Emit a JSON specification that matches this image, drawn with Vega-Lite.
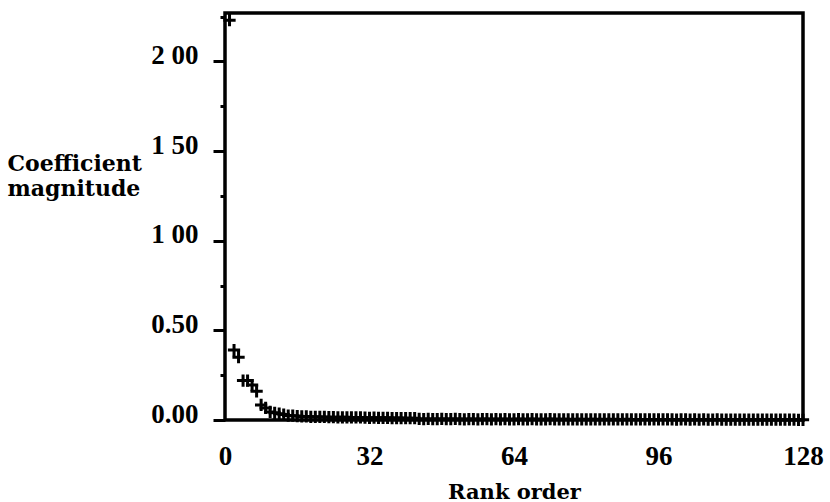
{
  "$schema": "https://vega.github.io/schema/vega-lite/v6.json",
  "width": 578,
  "height": 407,
  "autosize": "none",
  "padding": {"left": 225, "top": 13, "right": 27, "bottom": 82},
  "background": "white",
  "config": {
    "view": {"stroke": "black", "strokeWidth": 3.5},
    "axis": {"grid": false, "domain": false, "labelColor": "black", "titleColor": "black", "tickColor": "black"}
  },
  "data": {"values": [
    {"rank": 1, "mag": 2.23}, {"rank": 2, "mag": 0.39}, {"rank": 3, "mag": 0.35}, {"rank": 4, "mag": 0.22},
    {"rank": 5, "mag": 0.22}, {"rank": 6, "mag": 0.195}, {"rank": 7, "mag": 0.16}, {"rank": 8, "mag": 0.084},
    {"rank": 9, "mag": 0.067}, {"rank": 10, "mag": 0.045}, {"rank": 11, "mag": 0.04}, {"rank": 12, "mag": 0.035},
    {"rank": 13, "mag": 0.03}, {"rank": 14, "mag": 0.025}, {"rank": 15, "mag": 0.024}, {"rank": 16, "mag": 0.022},
    {"rank": 17, "mag": 0.02}, {"rank": 18, "mag": 0.02}, {"rank": 19, "mag": 0.018}, {"rank": 20, "mag": 0.018},
    {"rank": 21, "mag": 0.017}, {"rank": 22, "mag": 0.017}, {"rank": 23, "mag": 0.016}, {"rank": 24, "mag": 0.016},
    {"rank": 25, "mag": 0.015}, {"rank": 26, "mag": 0.015}, {"rank": 27, "mag": 0.015}, {"rank": 28, "mag": 0.014},
    {"rank": 29, "mag": 0.014}, {"rank": 30, "mag": 0.014}, {"rank": 31, "mag": 0.013}, {"rank": 32, "mag": 0.012},
    {"rank": 33, "mag": 0.013}, {"rank": 34, "mag": 0.012}, {"rank": 35, "mag": 0.012}, {"rank": 36, "mag": 0.012},
    {"rank": 37, "mag": 0.011}, {"rank": 38, "mag": 0.011}, {"rank": 39, "mag": 0.011}, {"rank": 40, "mag": 0.01},
    {"rank": 41, "mag": 0.01}, {"rank": 42, "mag": 0.01}, {"rank": 43, "mag": 0.006}, {"rank": 44, "mag": 0.005},
    {"rank": 45, "mag": 0.006}, {"rank": 46, "mag": 0.005}, {"rank": 47, "mag": 0.005}, {"rank": 48, "mag": 0.006},
    {"rank": 49, "mag": 0.005}, {"rank": 50, "mag": 0.005}, {"rank": 51, "mag": 0.006}, {"rank": 52, "mag": 0.005},
    {"rank": 53, "mag": 0.004}, {"rank": 54, "mag": 0.005}, {"rank": 55, "mag": 0.005}, {"rank": 56, "mag": 0.004},
    {"rank": 57, "mag": 0.005}, {"rank": 58, "mag": 0.005}, {"rank": 59, "mag": 0.004}, {"rank": 60, "mag": 0.005},
    {"rank": 61, "mag": 0.004}, {"rank": 62, "mag": 0.005}, {"rank": 63, "mag": 0.004}, {"rank": 64, "mag": 0.004},
    {"rank": 65, "mag": 0.005}, {"rank": 66, "mag": 0.004}, {"rank": 67, "mag": 0.004}, {"rank": 68, "mag": 0.005},
    {"rank": 69, "mag": 0.004}, {"rank": 70, "mag": 0.004}, {"rank": 71, "mag": 0.004}, {"rank": 72, "mag": 0.005},
    {"rank": 73, "mag": 0.004}, {"rank": 74, "mag": 0.004}, {"rank": 75, "mag": 0.004}, {"rank": 76, "mag": 0.004},
    {"rank": 77, "mag": 0.003}, {"rank": 78, "mag": 0.004}, {"rank": 79, "mag": 0.004}, {"rank": 80, "mag": 0.003},
    {"rank": 81, "mag": 0.004}, {"rank": 82, "mag": 0.004}, {"rank": 83, "mag": 0.003}, {"rank": 84, "mag": 0.004},
    {"rank": 85, "mag": 0.003}, {"rank": 86, "mag": 0.004}, {"rank": 87, "mag": 0.003}, {"rank": 88, "mag": 0.003},
    {"rank": 89, "mag": 0.004}, {"rank": 90, "mag": 0.003}, {"rank": 91, "mag": 0.003}, {"rank": 92, "mag": 0.003},
    {"rank": 93, "mag": 0.003}, {"rank": 94, "mag": 0.003}, {"rank": 95, "mag": 0.003}, {"rank": 96, "mag": 0.003},
    {"rank": 97, "mag": 0.003}, {"rank": 98, "mag": 0.003}, {"rank": 99, "mag": 0.003}, {"rank": 100, "mag": 0.002},
    {"rank": 101, "mag": 0.003}, {"rank": 102, "mag": 0.003}, {"rank": 103, "mag": 0.002}, {"rank": 104, "mag": 0.003},
    {"rank": 105, "mag": 0.002}, {"rank": 106, "mag": 0.003}, {"rank": 107, "mag": 0.002}, {"rank": 108, "mag": 0.002},
    {"rank": 109, "mag": 0.003}, {"rank": 110, "mag": 0.002}, {"rank": 111, "mag": 0.002}, {"rank": 112, "mag": 0.002},
    {"rank": 113, "mag": 0.002}, {"rank": 114, "mag": 0.002}, {"rank": 115, "mag": 0.002}, {"rank": 116, "mag": 0.002},
    {"rank": 117, "mag": 0.002}, {"rank": 118, "mag": 0.002}, {"rank": 119, "mag": 0.002}, {"rank": 120, "mag": 0.002},
    {"rank": 121, "mag": 0.002}, {"rank": 122, "mag": 0.002}, {"rank": 123, "mag": 0.002}, {"rank": 124, "mag": 0.002},
    {"rank": 125, "mag": 0.002}, {"rank": 126, "mag": 0.002}, {"rank": 127, "mag": 0.001}, {"rank": 128, "mag": 0.001}
  ]},
  "mark": {
    "type": "point",
    "shape": "M-1,0H1M0,-1V1",
    "filled": false,
    "stroke": "black",
    "strokeWidth": 3,
    "size": 150,
    "opacity": 1
  },
  "encoding": {
    "x": {
      "field": "rank",
      "type": "quantitative",
      "scale": {"domain": [0, 128], "nice": false, "zero": false},
      "axis": {
        "values": [0, 32, 64, 96, 128],
        "ticks": false,
        "tickSize": 0,
        "labelFlush": false,
        "labelPadding": 23,
        "labelFont": "Liberation Serif",
        "labelFontWeight": "bold",
        "labelFontSize": 27,
        "labelBaseline": "top",
        "title": "Rank order",
        "titleFont": "DejaVu Serif",
        "titleFontWeight": "bold",
        "titleFontSize": 21,
        "titleBaseline": "alphabetic",
        "titleY": 78
      }
    },
    "y": {
      "field": "mag",
      "type": "quantitative",
      "scale": {"domain": [0, 2.27], "nice": false},
      "axis": {
        "values": [0, 0.25, 0.5, 0.75, 1, 1.25, 1.5, 1.75, 2, 2.25],
        "tickWidth": 3,
        "tickSize": {"condition": {"test": "datum.value % 0.5 == 0", "value": 12}, "value": 5},
        "labelExpr": "datum.value == 0 ? '0.00' : datum.value == 0.5 ? '0.50' : datum.value == 1 ? '1 00' : datum.value == 1.5 ? '1 50' : datum.value == 2 ? '2 00' : ''",
        "labelOverlap": false,
        "labelBound": false,
        "labelPadding": 15,
        "labelOffset": -6,
        "labelFont": "Liberation Serif",
        "labelFontWeight": "bold",
        "labelFontSize": 27,
        "title": ["Coefficient", "magnitude"],
        "titleAngle": 0,
        "titleAlign": "left",
        "titleBaseline": "alphabetic",
        "titleX": -218,
        "titleY": 157,
        "titleFont": "DejaVu Serif",
        "titleFontWeight": "bold",
        "titleFontSize": 22,
        "titleLineHeight": 25
      }
    }
  }
}
